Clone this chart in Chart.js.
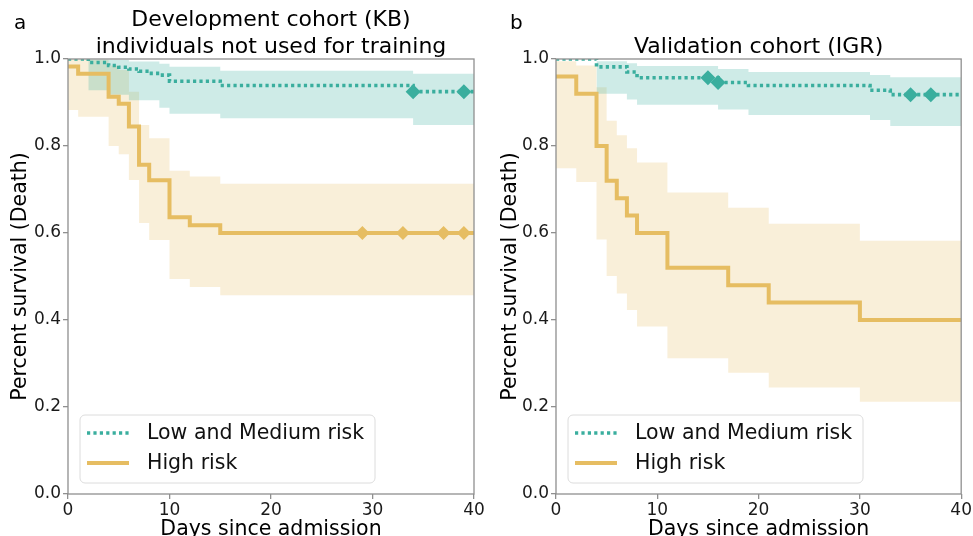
<!DOCTYPE html>
<html>
<head>
<meta charset="utf-8">
<script src="https://cdn.jsdelivr.net/npm/chart.js@4.4.0/dist/chart.umd.min.js"></script>
<style>
    body { margin: 0; background: #fff; width: 973px; height: 536px; overflow: hidden; position: relative; }
    canvas { position: absolute; top: 0; }
    #chartA { left: 0; }
    #chartB { left: 490px; }
</style>
</head>
<body>
<canvas id="chartA" width="490" height="536"></canvas>
<canvas id="chartB" width="483" height="536"></canvas>
<script>
// ---- data ----
var xTicks = [0, 10, 20, 30, 40];
var yTicks = [0, 0.2, 0.4, 0.6, 0.8, 1.0];
var yTickLabels = ['0.0', '0.2', '0.4', '0.6', '0.8', '1.0'];
var seriesNames = ['Low and Medium risk', 'High risk'];

// panel a : development cohort
var lowA_t = [0, 2, 4, 5, 6, 7, 8, 9, 10, 15, 34, 40];
var lowA_s = [1, 0.992, 0.985, 0.981, 0.977, 0.972, 0.967, 0.963, 0.949, 0.939, 0.925, 0.925];
var lowA_bandT = [2, 4, 6, 9, 10, 15, 34, 40];
var lowA_up = [0.999, 0.998, 0.994, 0.989, 0.982, 0.973, 0.966, 0.966];
var lowA_lo = [0.928, 0.918, 0.905, 0.888, 0.874, 0.864, 0.848, 0.848];
var lowA_censor = [34, 39];

var highA_t = [0, 1, 4, 5, 6, 7, 8, 10, 12, 15, 40];
var highA_s = [0.983, 0.966, 0.913, 0.897, 0.845, 0.757, 0.721, 0.636, 0.618, 0.600, 0.600];
var highA_up = [1.0, 0.998, 0.985, 0.975, 0.925, 0.848, 0.818, 0.743, 0.730, 0.713, 0.713];
var highA_lo = [0.883, 0.867, 0.800, 0.781, 0.722, 0.623, 0.584, 0.494, 0.476, 0.457, 0.457];
var highA_censor = [29, 33, 37, 39];

// panel b : validation cohort
var lowB_t = [0, 4, 7, 8, 16, 19, 31, 33, 40];
var lowB_s = [1, 0.982, 0.970, 0.957, 0.946, 0.939, 0.928, 0.918, 0.918];
var lowB_bandT = [4, 7, 8, 16, 19, 31, 33, 40];
var lowB_up = [0.995, 0.990, 0.984, 0.977, 0.970, 0.963, 0.958, 0.958];
var lowB_lo = [0.920, 0.907, 0.895, 0.884, 0.871, 0.860, 0.846, 0.846];
var lowB_censor = [15, 16, 35, 37];

var highB_t = [0, 2, 4, 5, 6, 7, 8, 11, 17, 21, 30, 40];
var highB_s = [0.96, 0.92, 0.80, 0.72, 0.68, 0.64, 0.60, 0.52, 0.48, 0.44, 0.40, 0.40];
var highB_up = [0.995, 0.985, 0.935, 0.858, 0.825, 0.795, 0.762, 0.693, 0.658, 0.621, 0.582, 0.582];
var highB_lo = [0.749, 0.717, 0.585, 0.501, 0.461, 0.423, 0.385, 0.312, 0.279, 0.245, 0.212, 0.212];
var highB_censor = [];

// ---- styles ----
var FONT = "'DejaVu Sans', sans-serif";
var TEXT = '#1a1a1a';
var SPINE = '#8f8f8f';
var TEAL = 'rgb(58,174,158)';
var TEAL_BAND = 'rgba(58,174,158,0.25)';
var GOLD = 'rgb(230,189,98)';
var GOLD_BAND = 'rgba(232,196,120,0.28)';

function toPoints(times, values) {
    return times.map(function (t, i) { return { x: t, y: values[i] }; });
}

function survivalAt(times, values, t) {
    var v = values[0];
    for (var i = 0; i < times.length; i++) {
        if (times[i] <= t) v = values[i];
    }
    return v;
}

function censorPoints(times, values, marks) {
    return marks.map(function (t) { return { x: t, y: survivalAt(times, values, t) }; });
}

function bandSet(times, values, color, fill, order) {
    return {
        data: toPoints(times, values),
        stepped: 'before',
        borderColor: 'rgba(0,0,0,0)',
        borderWidth: 0,
        pointRadius: 0,
        backgroundColor: color,
        fill: fill,
        order: order
    };
}

function buildDatasets(p) {
    return [
        {
            label: seriesNames[0],
            data: toPoints(p.lowT, p.lowS),
            stepped: 'before',
            borderColor: TEAL,
            borderWidth: 3.6,
            borderDash: [3.2, 3.2],
            borderCapStyle: 'butt',
            pointRadius: 0,
            fill: false,
            order: 1
        },
        {
            label: seriesNames[1],
            data: toPoints(p.highT, p.highS),
            stepped: 'before',
            borderColor: GOLD,
            borderWidth: 4,
            pointRadius: 0,
            fill: false,
            order: 1
        },
        {
            data: censorPoints(p.lowT, p.lowS, p.lowC),
            showLine: false,
            pointStyle: 'rectRot',
            pointRadius: 7.5,
            pointBackgroundColor: TEAL,
            pointBorderWidth: 0,
            order: 0
        },
        {
            data: censorPoints(p.highT, p.highS, p.highC),
            showLine: false,
            pointStyle: 'rectRot',
            pointRadius: 7,
            pointBackgroundColor: GOLD,
            pointBorderWidth: 0,
            order: 0
        },
        bandSet(p.highT, p.highUp, GOLD_BAND, '+1', 3),
        bandSet(p.highT, p.highLo, GOLD_BAND, false, 3),
        bandSet(p.lowBandT, p.lowUp, TEAL_BAND, '+1', 2),
        bandSet(p.lowBandT, p.lowLo, TEAL_BAND, false, 2)
    ];
}

// frame on all four sides, drawn above the data like matplotlib spines
var framePlugin = {
    id: 'frame',
    afterDatasetsDraw: function (chart) {
        var a = chart.chartArea, ctx = chart.ctx;
        ctx.save();
        ctx.strokeStyle = SPINE;
        ctx.lineWidth = 1.3;
        ctx.strokeRect(a.left, a.top, a.right - a.left, a.bottom - a.top);
        ctx.restore();
    }
};

var headerPlugin = {
    id: 'header',
    afterDraw: function (chart, args, opts) {
        var ctx = chart.ctx, a = chart.chartArea;
        var cx = (a.left + a.right) / 2;
        ctx.save();
        ctx.fillStyle = '#000';
        ctx.textBaseline = 'alphabetic';
        ctx.font = '20px ' + FONT;
        ctx.textAlign = 'left';
        ctx.fillText(opts.letter, opts.letterX, 29);
        ctx.font = '22px ' + FONT;
        ctx.textAlign = 'center';
        var lines = opts.lines;
        for (var i = 0; i < lines.length; i++) {
            var y = 53 - (lines.length - 1 - i) * 27;
            ctx.fillText(lines[i], cx, y);
        }
        ctx.restore();
    }
};

var boxLegendPlugin = {
    id: 'boxLegend',
    afterDraw: function (chart) {
        var ctx = chart.ctx, a = chart.chartArea;
        var x0 = a.left + 12, y0 = 415, w = 295, h = 68, r = 5;
        ctx.save();
        ctx.beginPath();
        ctx.moveTo(x0 + r, y0);
        ctx.arcTo(x0 + w, y0, x0 + w, y0 + h, r);
        ctx.arcTo(x0 + w, y0 + h, x0, y0 + h, r);
        ctx.arcTo(x0, y0 + h, x0, y0, r);
        ctx.arcTo(x0, y0, x0 + w, y0, r);
        ctx.closePath();
        ctx.fillStyle = 'rgba(255,255,255,0.8)';
        ctx.fill();
        ctx.strokeStyle = '#dcdcdc';
        ctx.lineWidth = 1;
        ctx.stroke();

        var sets = chart.data.datasets.slice(0, 2);
        sets.forEach(function (ds, i) {
            var yy = y0 + 18 + i * 30;
            ctx.beginPath();
            ctx.setLineDash(ds.borderDash || []);
            ctx.strokeStyle = ds.borderColor;
            ctx.lineWidth = ds.borderWidth;
            ctx.moveTo(x0 + 7, yy);
            ctx.lineTo(x0 + 49, yy);
            ctx.stroke();
            ctx.setLineDash([]);
            ctx.fillStyle = '#111';
            ctx.font = '20.5px ' + FONT;
            ctx.textAlign = 'left';
            ctx.textBaseline = 'middle';
            ctx.fillText(ds.label, x0 + 67, yy + 1);
        });
        ctx.restore();
    }
};

function makeChart(id, p, yWidth, padRight, header) {
    var ctx = document.getElementById(id).getContext('2d');
    return new Chart(ctx, {
        type: 'line',
        data: { datasets: buildDatasets(p) },
        plugins: [framePlugin, headerPlugin, boxLegendPlugin],
        options: {
            responsive: false,
            animation: false,
            devicePixelRatio: 1,
            layout: { padding: { left: 0, top: 59, right: padRight, bottom: 0 } },
            plugins: {
                legend: { display: false },
                tooltip: { enabled: false },
                header: header
            },
            scales: {
                x: {
                    type: 'linear',
                    min: 0,
                    max: 40,
                    afterBuildTicks: function (s) { s.ticks = xTicks.map(function (v) { return { value: v }; }); },
                    ticks: { color: TEXT, font: { family: FONT, size: 17 }, padding: 1, maxRotation: 0,
                        callback: function (v) { return String(v); } },
                    grid: { drawOnChartArea: false, drawTicks: true, tickLength: 5, color: SPINE, lineWidth: 1.3 },
                    border: { display: false },
                    title: { display: true, text: 'Days since admission', color: '#000',
                        font: { family: FONT, size: 20.5 }, padding: { top: 0, bottom: -6 } },
                    afterFit: function (s) { s.height = 42; }
                },
                y: {
                    type: 'linear',
                    min: 0,
                    max: 1,
                    afterBuildTicks: function (s) { s.ticks = yTicks.map(function (v) { return { value: v }; }); },
                    ticks: { color: TEXT, font: { family: FONT, size: 17 }, padding: 2,
                        callback: function (v) { return yTickLabels[yTicks.indexOf(v)]; } },
                    grid: { drawOnChartArea: false, drawTicks: true, tickLength: 5, color: SPINE, lineWidth: 1.3 },
                    border: { display: false },
                    title: { display: true, text: 'Percent survival (Death)', color: '#000',
                        font: { family: FONT, size: 20.5 }, padding: { top: 8, bottom: 0 } },
                    afterFit: function (s) { s.width = yWidth; }
                }
            }
        }
    });
}

makeChart('chartA', {
    lowT: lowA_t, lowS: lowA_s, lowBandT: lowA_bandT, lowUp: lowA_up, lowLo: lowA_lo, lowC: lowA_censor,
    highT: highA_t, highS: highA_s, highUp: highA_up, highLo: highA_lo, highC: highA_censor
}, 68, 16, { letter: 'a', letterX: 14, lines: ['Development cohort (KB)', 'individuals not used for training'] });

makeChart('chartB', {
    lowT: lowB_t, lowS: lowB_s, lowBandT: lowB_bandT, lowUp: lowB_up, lowLo: lowB_lo, lowC: lowB_censor,
    highT: highB_t, highS: highB_s, highUp: highB_up, highLo: highB_lo, highC: highB_censor
}, 66, 11, { letter: 'b', letterX: 20, lines: ['Validation cohort (IGR)'] });
</script>
</body>
</html>
